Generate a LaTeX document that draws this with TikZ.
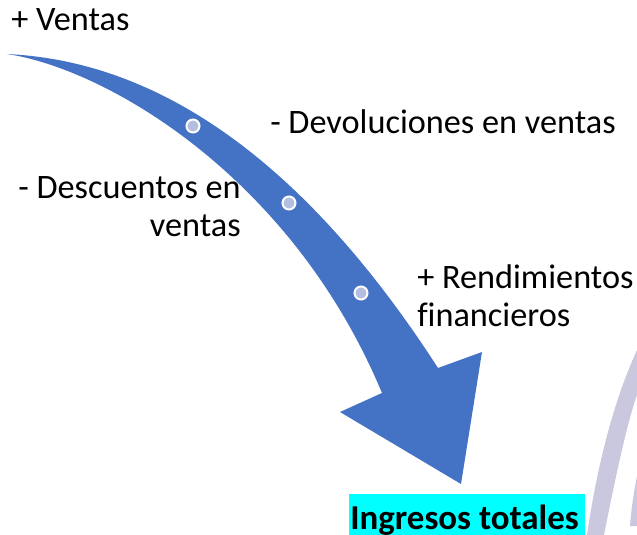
\documentclass[tikz,border=0pt]{standalone}
\usepackage{fontspec}
\setmainfont{Carlito}[Ligatures=CommonOff]
\definecolor{arrowblue}{RGB}{68,114,196}
\definecolor{dotfill}{RGB}{180,190,224}
\definecolor{lav}{RGB}{202,200,222}
\definecolor{hl}{RGB}{0,255,255}
\begin{document}
\begin{tikzpicture}[x=0.75pt,y=-0.75pt,
  lbl/.style={font=\fontsize{25.7}{28.7}\selectfont, inner sep=0pt},
  dot/.style={circle, fill=dotfill, draw=white, line width=1.5pt, minimum size=9.75pt, inner sep=0pt}]
\useasboundingbox (0,0) rectangle (637,535);
% faint lavender arcs at right
\fill[lav] (637,350) .. controls (615,398) and (598,460) .. (587,535) -- (604,535)
  .. controls (618,464) and (629,417) .. (637,395) -- cycle;
\fill[lav] (637,476) .. controls (633,497) and (631,512) .. (630,526) -- (637,526) -- cycle;
% curved arrow
\fill[arrowblue] (7,54) .. controls (107,59) and (268,104.5) .. (438,368)
  -- (482,352) -- (461,484) -- (340,412) -- (382,393)
  .. controls (292,177) and (107,69) .. (7,54) -- cycle;
\node[dot] (d1) at (193,126) {};
\node[dot] (d2) at (289,203) {};
\node[dot] (d3) at (361,293) {};
% labels
\node[lbl, anchor=base west] (ventas) at (11,31) {+ Ventas};
\node[lbl, anchor=base west] (devol) at (270,134) {- Devoluciones en ventas};
\node[lbl, anchor=base east, align=right] (desc) at (241,237) {- Descuentos en\\ventas};
\node[lbl, anchor=base west, align=left] (rend) at (417,327) {+ Rendimientos\\financieros};
\fill[hl] (349,494) rectangle (585,535);
\node[lbl, font=\fontsize{26.2}{28.7}\selectfont\bfseries, anchor=base west] (total) at (350,529) {Ingresos totales};
\end{tikzpicture}
\end{document}
